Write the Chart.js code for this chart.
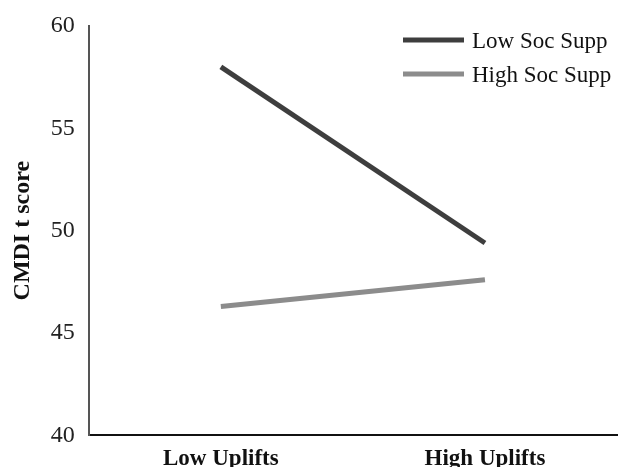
<!DOCTYPE html>
<html>
<head>
<meta charset="utf-8">
<script src="https://cdn.jsdelivr.net/npm/chart.js@4.4.0/dist/chart.umd.min.js"></script>
<style>
  html, body { margin: 0; padding: 0; background: #fff; }
  #wrap { width: 618px; height: 467px; }
</style>
</head>
<body>
<div id="wrap"><canvas id="chart"></canvas></div>
<script>
// Data
const categories = ['Low Uplifts', 'High Uplifts'];
const seriesNames = ['Low Soc Supp', 'High Soc Supp'];
const lowSocSupp = [58.0, 49.4];
const highSocSupp = [46.3, 47.6];
const yTicks = [40, 45, 50, 55, 60];

const lineColors = ['#3e3e3e', '#8c8c8c'];
const serif = '"Liberation Serif", "Times New Roman", serif';

// little legend drawn inside the chart area, top right
const sideLegend = {
  id: 'sideLegend',
  afterDraw(chart) {
    const ctx = chart.ctx;
    ctx.save();
    ctx.font = '23px ' + serif;
    ctx.textBaseline = 'middle';
    chart.data.datasets.forEach((ds, i) => {
      const y = 40 + i * 34;
      ctx.strokeStyle = ds.borderColor;
      ctx.lineWidth = 5;
      ctx.beginPath();
      ctx.moveTo(403, y);
      ctx.lineTo(464, y);
      ctx.stroke();
      ctx.fillStyle = '#111';
      ctx.fillText(ds.label, 472, y + 2);
    });
    ctx.restore();
  }
};

const ctx = document.getElementById('chart');
const chart = new Chart(ctx, {
  type: 'line',
  data: {
    labels: categories,
    datasets: [
      { label: seriesNames[0], data: lowSocSupp, borderColor: lineColors[0], borderWidth: 5, pointRadius: 0, borderCapStyle: 'butt' },
      { label: seriesNames[1], data: highSocSupp, borderColor: lineColors[1], borderWidth: 5, pointRadius: 0, borderCapStyle: 'butt' }
    ]
  },
  options: {
    responsive: true,
    maintainAspectRatio: false,
    animation: false,
    layout: { padding: { top: 4, right: 1, left: 4, bottom: 0 } },
    plugins: {
      legend: { display: false },
      tooltip: { enabled: false }
    },
    scales: {
      x: {
        offset: true,
        afterFit: (scale) => { scale.height = 31.6; },
        grid: { display: false, drawTicks: false },
        border: { display: true, color: '#111', width: 2 },
        ticks: {
          padding: 10,
          color: '#111',
          font: { family: serif, size: 23, weight: 'bold' }
        }
      },
      y: {
        min: 40,
        max: 60,
        afterBuildTicks: (axis) => { axis.ticks = yTicks.map(v => ({ value: v })); },
        grid: { display: false, drawTicks: false },
        border: { display: true, color: '#555', width: 2 },
        ticks: {
          padding: 14,
          color: '#222',
          font: { family: serif, size: 24, lineHeight: 1.0 }
        },
        title: {
          display: true,
          text: 'CMDI t score',
          color: '#111',
          padding: { top: 4, bottom: 0 },
          font: { family: serif, size: 24, weight: 'bold' }
        }
      }
    }
  },
  plugins: [sideLegend]
});
</script>
</body>
</html>
